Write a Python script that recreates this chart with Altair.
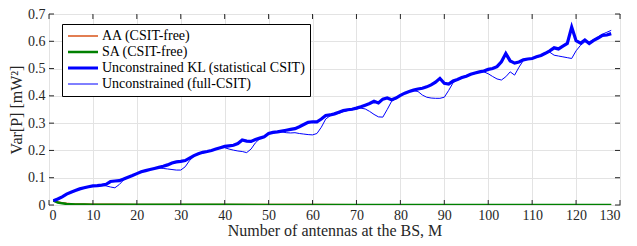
import altair as alt
import pandas as pd

# ---------------- data ----------------
series_names = ["AA (CSIT-free)", "SA (CSIT-free)",
                "Unconstrained KL (statistical CSIT)", "Unconstrained (full-CSIT)"]
series_colors = ["#D95319", "#008000", "#0000FF", "#0000FF"]
series_widths = [1.5, 2.5, 3.2, 1.0]

M_low = [1, 2, 3, 4, 5, 6, 8, 10, 15, 20, 30, 40, 50, 60, 70, 80, 90, 100, 110, 120, 128]
aa = [0.016, 0.011, 0.008, 0.006, 0.005, 0.004, 0.0035, 0.003, 0.0025, 0.002, 0.0018,
      0.0016, 0.0015, 0.0014, 0.0013, 0.0012, 0.0012, 0.0011, 0.0011, 0.001, 0.001]
sa = [0.016, 0.009, 0.006, 0.004, 0.003, 0.002, 0.0015, 0.001, 0.0008, 0.0006, 0.0005,
      0.0005, 0.0004, 0.0004, 0.0004, 0.0004, 0.0004, 0.0004, 0.0004, 0.0004, 0.0004]

M_full = list(range(1, 129))
kl = [0.016, 0.022, 0.030, 0.040, 0.047, 0.053, 0.059, 0.063, 0.067, 0.070,
      0.071, 0.073, 0.076, 0.086, 0.088, 0.089, 0.095, 0.102, 0.108, 0.115,
      0.122, 0.126, 0.130, 0.134, 0.138, 0.142, 0.147, 0.154, 0.158, 0.160,
      0.163, 0.172, 0.181, 0.188, 0.193, 0.196, 0.200, 0.205, 0.210, 0.215,
      0.217, 0.219, 0.225, 0.238, 0.234, 0.233, 0.240, 0.245, 0.250, 0.262,
      0.266, 0.268, 0.271, 0.274, 0.277, 0.280, 0.287, 0.295, 0.303, 0.305,
      0.305, 0.315, 0.328, 0.330, 0.334, 0.340, 0.346, 0.349, 0.351, 0.355,
      0.360, 0.366, 0.372, 0.380, 0.374, 0.388, 0.392, 0.386, 0.392, 0.402,
      0.410, 0.416, 0.421, 0.425, 0.428, 0.433, 0.440, 0.450, 0.464, 0.446,
      0.443, 0.455, 0.460, 0.467, 0.472, 0.479, 0.484, 0.488, 0.491, 0.497,
      0.500, 0.507, 0.525, 0.555, 0.528, 0.520, 0.524, 0.532, 0.535, 0.537,
      0.543, 0.548, 0.556, 0.565, 0.576, 0.572, 0.582, 0.592, 0.652, 0.602,
      0.593, 0.605, 0.592, 0.603, 0.612, 0.622, 0.623, 0.628]
full = [0.016, 0.023, 0.031, 0.040, 0.047, 0.054, 0.059, 0.064, 0.067, 0.069,
        0.071, 0.072, 0.070, 0.066, 0.063, 0.075, 0.092, 0.101, 0.108, 0.115,
        0.121, 0.126, 0.130, 0.134, 0.136, 0.134, 0.132, 0.130, 0.128, 0.128,
        0.140, 0.163, 0.178, 0.187, 0.192, 0.196, 0.199, 0.204, 0.209, 0.210,
        0.205, 0.201, 0.198, 0.196, 0.192, 0.205, 0.228, 0.243, 0.249, 0.260,
        0.264, 0.267, 0.268, 0.265, 0.264, 0.265, 0.262, 0.260, 0.258, 0.257,
        0.262, 0.285, 0.315, 0.327, 0.333, 0.336, 0.342, 0.346, 0.349, 0.352,
        0.355, 0.352, 0.343, 0.332, 0.323, 0.322, 0.350, 0.380, 0.390, 0.400,
        0.408, 0.415, 0.419, 0.416, 0.403, 0.395, 0.392, 0.391, 0.391, 0.395,
        0.420, 0.448, 0.458, 0.465, 0.470, 0.477, 0.482, 0.487, 0.488, 0.481,
        0.471, 0.462, 0.458, 0.470, 0.488, 0.476, 0.505, 0.530, 0.534, 0.537,
        0.541, 0.547, 0.555, 0.560, 0.549, 0.546, 0.543, 0.540, 0.537, 0.565,
        0.585, 0.598, 0.598, 0.606, 0.616, 0.626, 0.633, 0.640]

x_ticks = list(range(0, 131, 10))
y_ticks = [0, 0.1, 0.2, 0.3, 0.4, 0.5, 0.6, 0.7]

# ---------------- build table ----------------
rows = []
for m, v in zip(M_low, aa):
    rows.append({"M": m, "v": v, "series": series_names[0], "ord": 0})
for m, v in zip(M_low, sa):
    rows.append({"M": m, "v": v, "series": series_names[1], "ord": 1})
for m, v in zip(M_full, kl):
    rows.append({"M": m, "v": v, "series": series_names[2], "ord": 2})
for m, v in zip(M_full, full):
    rows.append({"M": m, "v": v, "series": series_names[3], "ord": 3})
df = pd.DataFrame(rows)

W, H = 571, 191
FONT = "Liberation Serif"

xscale = alt.Scale(domain=[0, 130], nice=False)
yscale = alt.Scale(domain=[0, 0.7], nice=False)
x_axis = alt.Axis(values=x_ticks, title="Number of antennas at the BS, M",
                  ticks=False, domain=False, grid=True, labelPadding=3,
                  titlePadding=0)
y_axis = alt.Axis(values=y_ticks, title="Var[P] [mW²]", ticks=False,
                  domain=False, grid=True, labelPadding=4,
                  labelExpr="datum.value == 0 ? '0' : format(datum.value, '.1f')",
                  titlePadding=3)

lines = alt.Chart(df).mark_line(clip=True).encode(
    x=alt.X("M:Q", scale=xscale, axis=x_axis),
    y=alt.Y("v:Q", scale=yscale, axis=y_axis),
    color=alt.Color("series:N", scale=alt.Scale(domain=series_names, range=series_colors),
                    legend=alt.Legend(title=None)),
    strokeWidth=alt.StrokeWidth("series:N",
                                scale=alt.Scale(type="ordinal", domain=series_names,
                                                range=series_widths),
                                legend=alt.Legend(title=None)),
    order="ord:Q",
)

tx = pd.DataFrame({"t": x_ticks})
ty = pd.DataFrame({"t": y_ticks})
tick_color = "#262626"
bottom = alt.Chart(tx).mark_rule(color=tick_color, strokeWidth=1).encode(
    x=alt.X("t:Q", scale=xscale, axis=x_axis), y=alt.value(H), y2=alt.value(H - 5))
top = alt.Chart(tx).mark_rule(color=tick_color, strokeWidth=1).encode(
    x=alt.X("t:Q", scale=xscale, axis=x_axis), y=alt.value(0), y2=alt.value(5))
left = alt.Chart(ty).mark_rule(color=tick_color, strokeWidth=1).encode(
    y=alt.Y("t:Q", scale=yscale, axis=y_axis), x=alt.value(0), x2=alt.value(5))
right = alt.Chart(ty).mark_rule(color=tick_color, strokeWidth=1).encode(
    y=alt.Y("t:Q", scale=yscale, axis=y_axis), x=alt.value(W), x2=alt.value(W - 5))

chart = alt.layer(lines, bottom, top, left, right).properties(
    width=W, height=H,
    autosize="none",
    padding={"left": 41, "top": 6, "right": 9, "bottom": 33},
).configure_view(
    stroke=tick_color, strokeWidth=1
).configure_axis(
    labelFont=FONT, titleFont=FONT, labelFontSize=14, titleFontSize=16,
    labelColor="#262626", titleColor="#262626", titleFontWeight="normal",
    gridColor="#e3e3e3", gridWidth=1, labelOverlap=False,
).configure_legend(
    orient="none", legendX=13, legendY=10,
    symbolType="stroke", symbolSize=900, labelFont=FONT, labelFontSize=14,
    labelColor="#000000", strokeColor="#000000", fillColor="#ffffff",
    padding=4, rowPadding=0, clipHeight=16, labelOffset=2, symbolOffset=0,
    labelLimit=400,
)

chart.save("out.html", embed_options={"renderer": "svg", "actions": False})
